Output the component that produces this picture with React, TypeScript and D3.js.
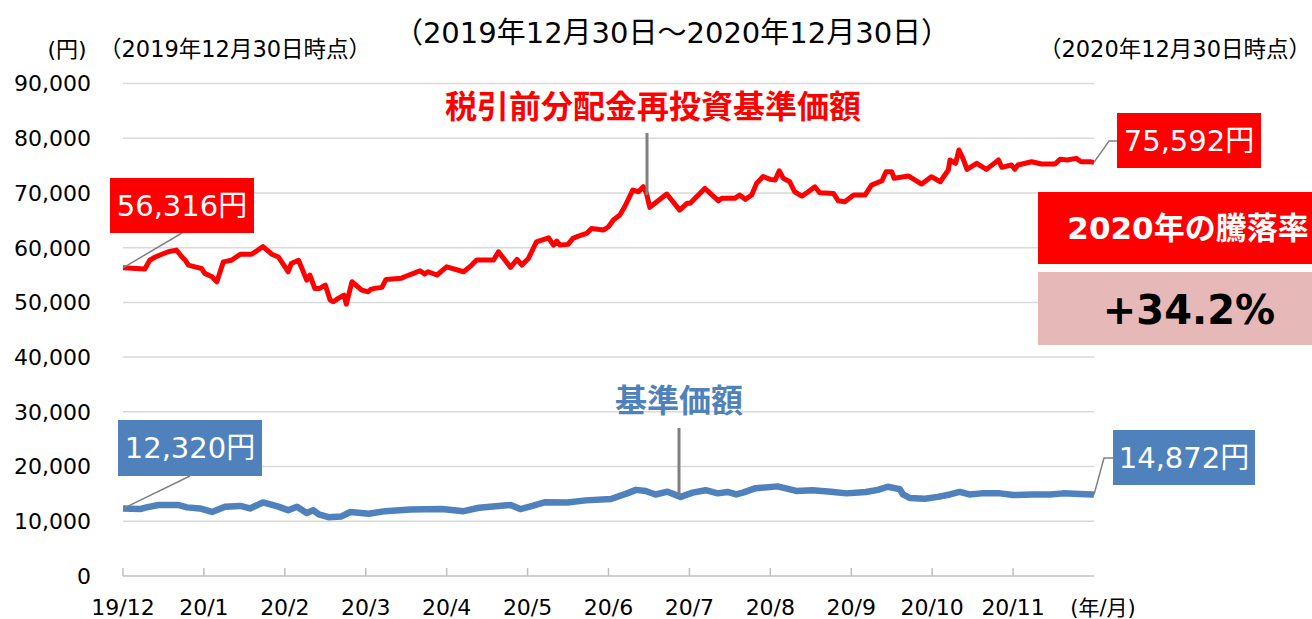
import React, { useEffect, useRef } from 'react';
import * as d3 from 'd3';

// x positions are in months from the start (19/12 = 0, end of 20/12 = 12)
const monthLabels = ['19/12', '20/1', '20/2', '20/3', '20/4', '20/5', '20/6', '20/7', '20/8', '20/9', '20/10', '20/11'];
const yTicks = [0, 10000, 20000, 30000, 40000, 50000, 60000, 70000, 80000, 90000];

// 税引前分配金再投資基準価額 [month, yen]
const reinvested: [number, number][] = [
  [0, 56316], [0.27, 56100], [0.33, 57700], [0.4, 58300], [0.48, 58800], [0.56, 59250], [0.66, 59560],
  [0.73, 58300], [0.77, 57700], [0.81, 56800], [0.89, 56500], [0.97, 56200], [1.01, 55300], [1.1, 54700],
  [1.16, 53770], [1.24, 57400], [1.34, 57700], [1.45, 58800], [1.59, 58800], [1.65, 59400], [1.73, 60200],
  [1.84, 58800], [1.92, 58300], [2.04, 55600], [2.08, 57100], [2.17, 57700], [2.27, 54070], [2.31, 55000],
  [2.37, 52560], [2.43, 52560], [2.5, 53160], [2.56, 50420], [2.6, 50110], [2.66, 50730], [2.73, 51330],
  [2.76, 49690], [2.83, 53770], [2.95, 52250], [3.03, 51940], [3.06, 52370], [3.11, 52560], [3.2, 52740],
  [3.25, 54200], [3.44, 54390], [3.48, 54680], [3.59, 55300], [3.67, 55780], [3.73, 55170], [3.77, 55600],
  [3.88, 55000], [4.0, 56500], [4.21, 55600], [4.31, 56820], [4.37, 57730], [4.58, 57730], [4.64, 59250],
  [4.72, 57730], [4.79, 56400], [4.87, 57850], [4.93, 56820], [5.01, 58040], [5.11, 61080], [5.26, 61810],
  [5.32, 60470], [5.36, 61200], [5.4, 60470], [5.5, 60600], [5.56, 61700], [5.61, 62000], [5.73, 62610],
  [5.79, 63520], [5.94, 63220], [6.0, 63820], [6.06, 65040], [6.14, 65960], [6.2, 67480], [6.3, 70530],
  [6.37, 70220], [6.43, 71130], [6.47, 69920], [6.51, 67370], [6.72, 69800], [6.88, 66870], [6.97, 68100],
  [7.01, 68100], [7.19, 70830], [7.36, 68560], [7.4, 69010], [7.56, 69010], [7.62, 69620], [7.69, 68830],
  [7.77, 69620], [7.83, 71750], [7.91, 73000], [8.0, 72480], [8.06, 72360], [8.11, 74060], [8.16, 72670],
  [8.24, 72050], [8.3, 70220], [8.39, 69430], [8.47, 70220], [8.55, 71130], [8.61, 70040], [8.78, 69920],
  [8.84, 68560], [8.92, 68390], [9.03, 69620], [9.17, 69620], [9.25, 71440], [9.38, 72230], [9.43, 73880],
  [9.5, 73880], [9.53, 72670], [9.71, 73090], [9.87, 71630], [9.99, 72970], [10.1, 72050], [10.2, 74190],
  [10.22, 76020], [10.29, 75410], [10.33, 77840], [10.38, 76320], [10.43, 74310], [10.55, 75410],
  [10.67, 74310], [10.82, 76020], [10.86, 74680], [10.98, 75100], [11.02, 74310], [11.06, 75100],
  [11.23, 75710], [11.35, 75280], [11.52, 75280], [11.58, 76140], [11.67, 76020], [11.78, 76320],
  [11.84, 75710], [11.95, 75710], [12, 75592]
];

// 基準価額 [month, yen]
const nav: [number, number][] = [
  [0, 12320], [0.21, 12230], [0.29, 12540], [0.44, 12980], [0.68, 12980], [0.79, 12540], [0.95, 12340],
  [1.1, 11700], [1.26, 12670], [1.45, 12800], [1.57, 12340], [1.73, 13440], [1.92, 12670], [2.04, 12030],
  [2.15, 12670], [2.27, 11520], [2.35, 12030], [2.42, 11260], [2.54, 10750], [2.7, 10880], [2.81, 11700],
  [3.04, 11390], [3.24, 11850], [3.55, 12160], [3.94, 12230], [4.21, 11850], [4.4, 12470], [4.64, 12800],
  [4.79, 12980], [4.91, 12230], [5.06, 12800], [5.22, 13490], [5.49, 13440], [5.72, 13820], [6.03, 14080],
  [6.23, 15100], [6.34, 15740], [6.46, 15540], [6.58, 14900], [6.73, 15410], [6.89, 14460], [7.04, 15230],
  [7.2, 15680], [7.35, 15100], [7.47, 15360], [7.58, 14900], [7.66, 15230], [7.82, 16050], [8.09, 16380],
  [8.32, 15540], [8.52, 15680], [8.75, 15410], [8.94, 15100], [9.18, 15360], [9.33, 15740], [9.45, 16310],
  [9.6, 15870], [9.64, 14900], [9.72, 14260], [9.91, 14130], [10.07, 14460], [10.22, 14900], [10.34, 15360],
  [10.46, 14900], [10.61, 15100], [10.84, 15100], [11.0, 14790], [11.23, 14900], [11.46, 14900],
  [11.62, 15100], [11.97, 14900], [12, 14872]
];

const reinvestedName = '税引前分配金再投資基準価額';
const navName = '基準価額';
const returnTitle = '2020年の騰落率';
const returnValue = '+34.2%';

const RED = '#FF0000';
const BLUE = '#4F81BD';
const font = '"DejaVu Sans", "Noto Sans CJK JP", sans-serif';

const fmt = (v: number) => d3.format(',')(v) + '円';

export default function App() {
  const svgRef = useRef<SVGSVGElement>(null);
  const width = 1312;
  const height = 619;

  useEffect(() => {
    document.body.style.margin = '0';
    if (!svgRef.current) return;
    const svg = d3.select(svgRef.current);
    svg.selectAll('*').remove();
    svg.style('font-family', font);

    const x = d3.scaleLinear().domain([0, 12]).range([123, 1094]);
    const y = d3.scaleLinear().domain([0, 90000]).range([576, 83.5]);

    // gridlines
    svg.append('g')
      .selectAll('line')
      .data(yTicks.filter(d => d > 0))
      .enter()
      .append('line')
      .attr('x1', x(0))
      .attr('x2', x(12))
      .attr('y1', d => y(d))
      .attr('y2', d => y(d))
      .attr('stroke', '#D9D9D9')
      .attr('stroke-width', 1.5);

    // y labels
    svg.append('g')
      .selectAll('text')
      .data(yTicks)
      .enter()
      .append('text')
      .attr('x', 91)
      .attr('y', d => y(d))
      .attr('dy', '0.36em')
      .attr('text-anchor', 'end')
      .style('font-size', '22px')
      .style('fill', '#000')
      .text(d => d3.format(',')(d));

    // x axis
    svg.append('line')
      .attr('x1', x(0))
      .attr('x2', x(12))
      .attr('y1', y(0))
      .attr('y2', y(0))
      .attr('stroke', '#BFBFBF')
      .attr('stroke-width', 1.5);

    svg.append('g')
      .selectAll('line')
      .data(d3.range(0, 12))
      .enter()
      .append('line')
      .attr('x1', d => x(d))
      .attr('x2', d => x(d))
      .attr('y1', y(0))
      .attr('y2', y(0) - 8)
      .attr('stroke', '#BFBFBF')
      .attr('stroke-width', 1.5);

    svg.append('g')
      .selectAll('text')
      .data(monthLabels)
      .enter()
      .append('text')
      .attr('x', (_, i) => x(i))
      .attr('y', 615)
      .attr('text-anchor', 'middle')
      .style('font-size', '22px')
      .style('fill', '#000')
      .text(d => d);

    svg.append('text')
      .attr('x', 1103)
      .attr('y', 615)
      .attr('text-anchor', 'middle')
      .style('font-size', '21px')
      .text('(年/月)');

    // titles
    svg.append('text')
      .attr('x', 672)
      .attr('y', 43)
      .attr('text-anchor', 'middle')
      .style('font-size', '29px')
      .text('（2019年12月30日～2020年12月30日）');

    svg.append('text')
      .attr('x', 67)
      .attr('y', 57)
      .attr('text-anchor', 'middle')
      .style('font-size', '22px')
      .text('(円)');

    svg.append('text')
      .attr('x', 99)
      .attr('y', 57)
      .style('font-size', '22.5px')
      .text('（2019年12月30日時点）');

    svg.append('text')
      .attr('x', 1311)
      .attr('y', 57)
      .attr('text-anchor', 'end')
      .style('font-size', '22.5px')
      .text('（2020年12月30日時点）');

    // series
    const line = d3.line<[number, number]>()
      .x(d => x(d[0]))
      .y(d => y(d[1]));

    svg.append('path')
      .datum(nav)
      .attr('d', line)
      .attr('fill', 'none')
      .attr('stroke', BLUE)
      .attr('stroke-width', 6.5)
      .attr('stroke-linejoin', 'round');

    svg.append('path')
      .datum(reinvested)
      .attr('d', line)
      .attr('fill', 'none')
      .attr('stroke', RED)
      .attr('stroke-width', 5)
      .attr('stroke-linejoin', 'round');

    // series name labels with leader lines
    svg.append('line')
      .attr('x1', 647).attr('x2', 647)
      .attr('y1', 133).attr('y2', 195)
      .attr('stroke', '#808080').attr('stroke-width', 3);
    svg.append('text')
      .attr('x', 653)
      .attr('y', 118)
      .attr('text-anchor', 'middle')
      .style('font-size', '32px')
      .style('font-weight', 'bold')
      .style('fill', RED)
      .text(reinvestedName);

    svg.append('line')
      .attr('x1', 679).attr('x2', 679)
      .attr('y1', 428).attr('y2', 496)
      .attr('stroke', '#808080').attr('stroke-width', 3);
    svg.append('text')
      .attr('x', 679)
      .attr('y', 412)
      .attr('text-anchor', 'middle')
      .style('font-size', '32px')
      .style('font-weight', 'bold')
      .style('fill', BLUE)
      .text(navName);

    // value callouts
    const callout = (
      value: number, color: string, box: [number, number, number, number],
      leader: [number, number][]
    ) => {
      svg.append('path')
        .attr('d', d3.line()(leader))
        .attr('fill', 'none')
        .attr('stroke', '#808080')
        .attr('stroke-width', 1.5);
      svg.append('rect')
        .attr('x', box[0]).attr('y', box[1])
        .attr('width', box[2]).attr('height', box[3])
        .attr('fill', color);
      svg.append('text')
        .attr('x', box[0] + box[2] / 2)
        .attr('y', box[1] + box[3] / 2)
        .attr('dy', '0.36em')
        .attr('text-anchor', 'middle')
        .style('font-size', '29px')
        .style('fill', '#fff')
        .text(fmt(value));
    };

    const r0 = reinvested[0];
    const r1 = reinvested[reinvested.length - 1];
    const n0 = nav[0];
    const n1 = nav[nav.length - 1];

    callout(r0[1], RED, [110, 178, 144, 55], [[x(r0[0]), y(r0[1])], [182, 233]]);
    callout(r1[1], RED, [1117, 113, 144, 55], [[x(r1[0]), y(r1[1])], [1109, 141], [1117, 141]]);
    callout(n0[1], BLUE, [118, 420, 144, 56], [[x(n0[0]), y(n0[1])], [190, 476]]);
    callout(n1[1], BLUE, [1113, 430, 142, 55], [[x(n1[0]), y(n1[1])], [1104, 458], [1113, 458]]);

    // return boxes
    svg.append('rect')
      .attr('x', 1038).attr('y', 192)
      .attr('width', 274).attr('height', 72)
      .attr('fill', RED);
    svg.append('text')
      .attr('x', 1188)
      .attr('y', 228)
      .attr('dy', '0.36em')
      .attr('text-anchor', 'middle')
      .style('font-size', '31px')
      .style('font-weight', 'bold')
      .style('fill', '#fff')
      .text(returnTitle);

    svg.append('rect')
      .attr('x', 1038).attr('y', 272)
      .attr('width', 274).attr('height', 73)
      .attr('fill', '#E6B9B8');
    svg.append('text')
      .attr('x', 1189)
      .attr('y', 310)
      .attr('dy', '0.36em')
      .attr('text-anchor', 'middle')
      .style('font-size', '40px')
      .style('font-weight', 'bold')
      .style('fill', '#000')
      .text(returnValue);
  }, []);

  return <svg ref={svgRef} width={width} height={height} style={{ display: 'block' }} />;
}
